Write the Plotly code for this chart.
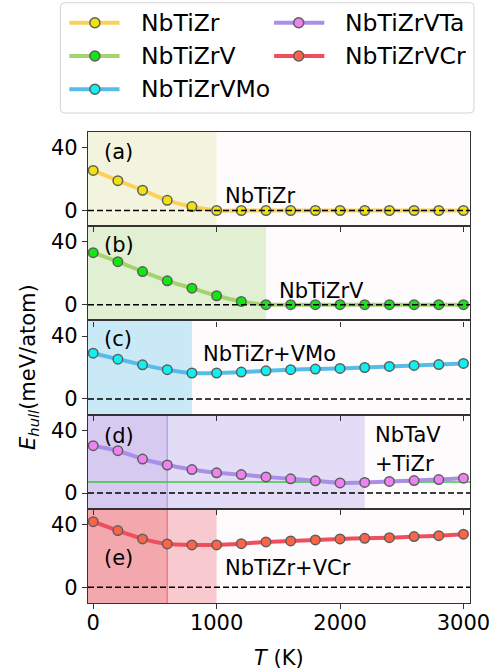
import plotly.graph_objects as go
from plotly.subplots import make_subplots

# ---------------- data ----------------
T = [0, 200, 400, 600, 800, 1000, 1200, 1400, 1600, 1800, 2000, 2200, 2400, 2600, 2800, 3000]
names = ["NbTiZr", "NbTiZrV", "NbTiZrVMo", "NbTiZrVTa", "NbTiZrVCr"]
e_nbtizr = [25.5, 19.0, 12.9, 6.5, 2.5, 0, 0, 0, 0, 0, 0, 0, 0, 0, 0, 0]
e_nbtizrv = [33.1, 27.4, 21.1, 15.2, 10.5, 5.7, 2.1, 0, 0, 0, 0, 0, 0, 0, 0, 0]
e_nbtizrvmo = [29.1, 25.3, 21.7, 18.6, 16.5, 16.5, 17.1, 17.9, 18.6, 19.0, 19.4, 20.0, 20.7, 21.3, 21.9, 22.6]
e_nbtizrvta = [30.2, 27.0, 21.7, 17.9, 15.0, 12.9, 11.8, 10.3, 9.1, 7.8, 6.5, 6.8, 7.4, 8.0, 8.6, 9.5]
e_nbtizrvcr = [41.8, 36.1, 30.8, 27.6, 27.0, 27.0, 27.8, 28.9, 29.5, 30.2, 30.8, 31.2, 31.6, 32.3, 32.9, 33.8]
series = [e_nbtizr, e_nbtizrv, e_nbtizrvmo, e_nbtizrvta, e_nbtizrvcr]
panel_labels = ["(a)", "(b)", "(c)", "(d)", "(e)"]
x_ticks = [0, 1000, 2000, 3000]
y_ticks = [0, 40]
nbtav_ref = 7.0  # reference level in panel (d)

# shaded temperature spans per panel: (x0, x1, colour)
spans = [
    [(-100, 1000, "#f3f4dd")],
    [(-100, 1400, "#e1efd3")],
    [(-100, 800, "#c8e9f5")],
    [(-100, 2200, "#e3dcf6"), (-100, 600, "#d6caf1")],
    [(-100, 1000, "#f8cacf"), (-100, 600, "#f3a8ad")],
]
vlines = {3: (600, "#b8a5ea"), 4: (600, "#ee7e86")}

# ---------------- styles ----------------
line_colors = ["#fbd15a", "#a5d46e", "#55bde8", "#a98fe6", "#ef4f5d"]
marker_colors = ["#f2e20c", "#14e614", "#10f0f0", "#ee82ee", "#ff6347"]
edge = "#5e5e5e"
bg = "#fefbfd"
FONT = "DejaVu Sans"

W, H = 502, 672
L, R, TOP, B = 88, 26, 132, 69
PW, PH = W - L - R, H - TOP - B


def px(xp):
    return (xp - L) / PW


def py(yp):
    return (H - B - yp) / PH


fig = make_subplots(rows=5, cols=1, shared_xaxes=True, vertical_spacing=0)

for i, (nm, ys) in enumerate(zip(names, series)):
    fig.add_trace(go.Scatter(
        x=T, y=ys, mode="lines+markers", name=nm, showlegend=False,
        line=dict(color=line_colors[i], width=4, shape="spline", smoothing=0.5),
        marker=dict(size=9.5, color=marker_colors[i], line=dict(color=edge, width=1.5)),
    ), row=i + 1, col=1)

shapes = []
annotations = []
for i in range(5):
    xr = "x" if i == 0 else f"x{i+1}"
    yr = "y" if i == 0 else f"y{i+1}"
    shapes.append(dict(type="rect", xref=xr + " domain", yref=yr + " domain", x0=0, x1=1, y0=0, y1=1,
                       fillcolor=bg, line=dict(width=0), layer="below"))
    for (x0, x1, c) in spans[i]:
        shapes.append(dict(type="rect", xref=xr, yref=yr + " domain", x0=x0, x1=x1, y0=0, y1=1,
                           fillcolor=c, line=dict(width=0), layer="below"))
    if i in vlines:
        xv, cv = vlines[i]
        shapes.append(dict(type="line", xref=xr, yref=yr + " domain", x0=xv, x1=xv, y0=0, y1=1,
                           line=dict(color=cv, width=1.5), layer="below"))
    if i == 3:
        shapes.append(dict(type="line", xref=xr + " domain", yref=yr, x0=0, x1=1, y0=nbtav_ref, y1=nbtav_ref,
                           line=dict(color="#3ec43e", width=1.5), layer="below"))
    shapes.append(dict(type="line", xref=xr + " domain", yref=yr, x0=0, x1=1, y0=0, y1=0,
                       line=dict(color="black", width=1.5, dash="6px,3px"), layer="above"))

label_pos = [(75, 37.0), (75, 38.0), (75, 38.0), (75, 36.5), (75, 18.5)]
name_text = [("NbTiZr", 1050, 9.0), ("NbTiZrV", 1490, 8.5), ("NbTiZr+VMo", 870, 28.5),
             ("NbTaV", 2268, 37.0), ("+TiZr", 2268, 18.5), ("NbTiZr+VCr", 1050, 12.3)]
name_panel = [0, 1, 2, 3, 3, 4]
for i, (lx, ly) in enumerate(label_pos):
    xr = "x" if i == 0 else f"x{i+1}"
    yr = "y" if i == 0 else f"y{i+1}"
    annotations.append(dict(text=panel_labels[i], x=lx, y=ly, xref=xr, yref=yr, xanchor="left",
                            yanchor="middle", showarrow=False, font=dict(size=21, color="black", family=FONT)))
for (t, tx, ty), p in zip(name_text, name_panel):
    xr = "x" if p == 0 else f"x{p+1}"
    yr = "y" if p == 0 else f"y{p+1}"
    annotations.append(dict(text=t, x=tx, y=ty, xref=xr, yref=yr, xanchor="left", yanchor="middle",
                            showarrow=False, font=dict(size=21, color="black", family=FONT)))

annotations.append(dict(text="<i>E</i><sub><i>hull</i></sub>(meV/atom)", x=px(28), y=py(367), xref="paper",
                        yref="paper", textangle=-90, showarrow=False, xanchor="center", yanchor="middle",
                        font=dict(size=21, color="black", family=FONT)))
annotations.append(dict(text="<i>T</i> (K)", x=px(282), y=py(658), xref="paper", yref="paper",
                        showarrow=False, xanchor="center", yanchor="middle",
                        font=dict(size=21, color="black", family=FONT)))

# ---------------- legend (manual, matplotlib-like) ----------------
bx0, bx1, by0, by1 = px(60), px(480), py(113), py(2.7)
rx, ry = 4 / PW, 4 / PH
path = (f"M {bx0+rx},{by0} L {bx1-rx},{by0} Q {bx1},{by0} {bx1},{by0+ry} "
        f"L {bx1},{by1-ry} Q {bx1},{by1} {bx1-rx},{by1} L {bx0+rx},{by1} Q {bx0},{by1} {bx0},{by1-ry} "
        f"L {bx0},{by0+ry} Q {bx0},{by0} {bx0+rx},{by0} Z")
shapes.append(dict(type="path", path=path, xref="paper", yref="paper", fillcolor="rgba(255,255,255,0.8)",
                   line=dict(color="#d4d4d4", width=1), layer="above"))
rows_y = [22.7, 56.0, 89.3]
cols = [(69, 120, 95, 140), (277, 328, 302, 347)]
slots = [(0, 0), (0, 1), (0, 2), (1, 0), (1, 1)]
for i, (c, r) in enumerate(slots):
    l0, l1, mx, tx = cols[c]
    yy = py(rows_y[r])
    shapes.append(dict(type="line", xref="paper", yref="paper", x0=px(l0), x1=px(l1), y0=yy, y1=yy,
                       line=dict(color=line_colors[i], width=4), layer="above"))
    shapes.append(dict(type="circle", xref="paper", yref="paper", xsizemode="pixel", ysizemode="pixel",
                       xanchor=px(mx), yanchor=yy, x0=-5, x1=5, y0=-5, y1=5,
                       fillcolor=marker_colors[i], line=dict(color=edge, width=1.5), layer="above"))
    annotations.append(dict(text=names[i], x=px(tx), y=yy, xref="paper", yref="paper", xanchor="left",
                            yanchor="middle", showarrow=False, font=dict(size=23.5, color="black", family=FONT)))

fig.update_layout(
    width=W, height=H, margin=dict(l=L, r=R, t=TOP, b=B, pad=0),
    paper_bgcolor="white", plot_bgcolor=bg, showlegend=False,
    shapes=shapes, annotations=annotations,
    font=dict(family=FONT, size=21, color="black"),
)
for i in range(1, 6):
    fig.update_xaxes(range=[-42, 3053], tickvals=x_ticks, ticks="outside", ticklen=5, tickwidth=1,
                     tickcolor="#333333", showline=True, linecolor="#333333", linewidth=1.2, mirror=True,
                     showgrid=False, zeroline=False, showticklabels=(i == 5), ticklabelstandoff=-4,
                     tickfont=dict(size=21, color="black", family=FONT), row=i, col=1)
    fig.update_yaxes(range=[-10, 50], tickvals=y_ticks, ticks="outside", ticklen=5, tickwidth=1,
                     tickcolor="#333333", showline=True, linecolor="#333333", linewidth=1.2, mirror=True,
                     showgrid=False, zeroline=False,
                     tickfont=dict(size=21, color="black", family=FONT), row=i, col=1)

fig.write_html("out.html")
